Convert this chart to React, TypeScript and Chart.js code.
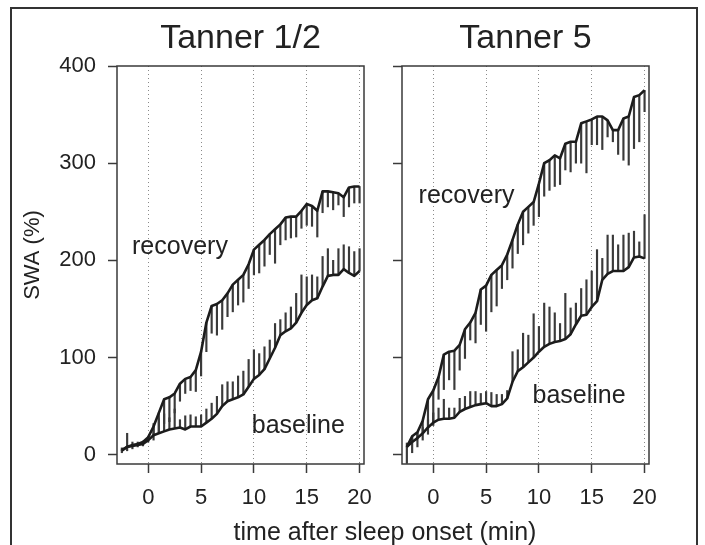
import React, { useEffect, useRef } from "react";
import { Chart, registerables } from "chart.js";

Chart.register(...registerables);

// ---------- data ----------
const time = [
  -2.5, -2, -1.5, -1, -0.5, 0, 0.5, 1, 1.5, 2, 2.5, 3, 3.5, 4, 4.5, 5, 5.5, 6, 6.5, 7, 7.5, 8, 8.5, 9, 9.5,
  10, 10.5, 11, 11.5, 12, 12.5, 13, 13.5, 14, 14.5, 15, 15.5, 16, 16.5, 17, 17.5, 18, 18.5, 19, 19.5, 20,
];

const xTicks = [0, 5, 10, 15, 20];
const yTicks = [0, 100, 200, 300, 400];
const panelTitles = ["Tanner 1/2", "Tanner 5"];
const seriesNames = ["recovery", "baseline"];
const xAxisTitle = "time after sleep onset (min)";
const yAxisTitle = "SWA (%)";

// Tanner 1/2
const t12Recovery = [
  5, 8, 10, 11, 13, 18, 29, 43, 57, 59, 63, 73, 78, 80, 87, 106, 136, 153, 155, 159, 166, 175, 180, 185, 196,
  211, 216, 221, 227, 232, 237, 244, 245, 245, 251, 258, 256, 251, 271, 271, 270, 269, 265, 275, 276, 276,
];
const t12RecoveryErr = [
  3, 4, 4, 3, 4, 5, 14, 20, 25, 25, 20, 18, 15, 14, 22, 25, 30, 28, 32, 30, 24, 28, 26, 28, 25,
  26, 29, 27, 21, 35, 21, 23, 22, 21, 18, 22, 21, 27, 22, 16, 18, 12, 20, 20, 17, 17,
];
const t12Baseline = [
  4, 8, 9, 10, 11, 15, 20, 22, 24, 26, 27, 28, 26, 29, 29, 29, 33, 37, 42, 50, 55, 57, 59, 62, 70,
  78, 82, 88, 99, 110, 123, 127, 130, 136, 146, 154, 159, 161, 173, 184, 185, 185, 191, 187, 184, 189,
];
const t12BaselineErr = [
  3, 14, 4, 3, 3, 4, 12, 15, 18, 12, 20, 8, 14, 12, 10, 12, 14, 16, 18, 22, 20, 18, 22, 24, 28,
  30, 22, 23, 19, 25, 16, 19, 22, 30, 39, 29, 26, 22, 31, 28, 15, 27, 25, 27, 25, 23,
];

// Tanner 5
const t5Recovery = [
  8, 19, 23, 35, 57, 66, 80, 103, 106, 107, 113, 129, 136, 146, 170, 174, 185, 190, 195, 206, 221, 237, 250, 255, 260,
  279, 300, 303, 308, 305, 320, 322, 322, 341, 343, 345, 348, 348, 344, 334, 334, 346, 348, 368, 370, 375,
];
const t5RecoveryErr = [
  17, 17, 15, 20, 36, 36, 23, 36, 29, 40, 26, 30, 18, 31, 36, 47, 38, 37, 24, 26, 29, 30, 34, 27, 24,
  34, 34, 31, 32, 27, 27, 31, 22, 41, 53, 26, 29, 34, 17, 12, 25, 43, 50, 53, 48, 22,
];
const t5Baseline = [
  8, 13, 17, 22, 28, 33, 36, 37, 37, 38, 44, 47, 49, 51, 52, 53, 50, 50, 52, 58, 75, 86, 90, 95, 100,
  106, 111, 114, 116, 117, 119, 124, 134, 143, 144, 152, 158, 180, 186, 189, 189, 189, 193, 203, 204, 202,
];
const t5BaselineErr = [
  4, 5, 5, 6, 8, 10, 12, 20, 11, 10, 14, 13, 16, 14, 11, 12, 14, 12, 10, 8, 31, 22, 35, 28, 45,
  26, 45, 38, 30, 18, 47, 27, 22, 28, 36, 37, 53, 22, 40, 37, 27, 37, 35, 27, 15, 45,
];

// ---------- style / layout ----------
const FONT = '"Liberation Sans", Arial, Helvetica, sans-serif';
const INK = "#222";
const BOX = "#3a3a3a";
const W = 705;
const H = 545;
const X_MIN = -2.96;
const X_MAX = 20.42;
const Y_MIN = -9.6;
const Y_MAX = 400;

type Panel = {
  title: string;
  rec: number[];
  recErr: number[];
  base: number[];
  baseErr: number[];
  left: number; // chart area left edge (px)
  right: number; // chart area right edge (px)
  showYLabels: boolean;
  showAxisTitles: boolean;
  labelPos: { x: number; y: number }[]; // in data units: recovery, baseline
};

const panels: Panel[] = [
  {
    title: panelTitles[0],
    rec: t12Recovery,
    recErr: t12RecoveryErr,
    base: t12Baseline,
    baseErr: t12BaselineErr,
    left: 117,
    right: 364,
    showYLabels: true,
    showAxisTitles: true,
    labelPos: [
      { x: 3.0, y: 207 },
      { x: 14.2, y: 22.5 },
    ],
  },
  {
    title: panelTitles[1],
    rec: t5Recovery,
    recErr: t5RecoveryErr,
    base: t5Baseline,
    baseErr: t5BaselineErr,
    left: 402,
    right: 649,
    showYLabels: false,
    showAxisTitles: false,
    labelPos: [
      { x: 3.15, y: 259 },
      { x: 13.8, y: 53.5 },
    ],
  },
];

const CHART_TOP = 66;
const CHART_BOTTOM = 464;

function makeConfig(p: Panel): any {
  const yWidth = p.showYLabels ? p.left : 20;
  const padLeft = p.left - yWidth;

  const decor = {
    id: "decor",
    afterDraw(chart: any) {
      const { ctx, chartArea: a, scales } = chart;
      ctx.save();
      ctx.strokeStyle = BOX;
      ctx.lineWidth = 1.5;
      ctx.strokeRect(a.left, a.top, a.right - a.left, a.bottom - a.top);
      ctx.fillStyle = INK;
      ctx.font = `25px ${FONT}`;
      ctx.textAlign = "center";
      ctx.textBaseline = "alphabetic";
      p.labelPos.forEach((lp, i) => {
        ctx.fillText(seriesNames[i], scales.x.getPixelForValue(lp.x), scales.y.getPixelForValue(lp.y));
      });
      if (p.showAxisTitles) {
        ctx.fillText(xAxisTitle, 385, 540);
        ctx.save();
        ctx.translate(33, 255);
        ctx.rotate(-Math.PI / 2);
        ctx.font = `22px ${FONT}`;
        ctx.textBaseline = "middle";
        ctx.fillText(yAxisTitle, 0, 0);
        ctx.restore();
      }
      ctx.restore();
    },
  };

  return {
    type: "line",
    data: {
      datasets: [
        {
          type: "line",
          data: time.map((t, i) => ({ x: t, y: p.rec[i] })),
          borderColor: "#1c1c1c",
          borderWidth: 2.6,
          pointRadius: 0,
          tension: 0,
          fill: false,
          borderJoinStyle: "round",
          order: 0,
        },
        {
          type: "line",
          data: time.map((t, i) => ({ x: t, y: p.base[i] })),
          borderColor: "#1c1c1c",
          borderWidth: 2.6,
          pointRadius: 0,
          tension: 0,
          fill: false,
          borderJoinStyle: "round",
          order: 0,
        },
        {
          type: "bar",
          data: time.map((t, i) => ({ x: t, y: [p.rec[i] - p.recErr[i], p.rec[i]] })),
          backgroundColor: "#3a3a3a",
          borderWidth: 0,
          barThickness: 1.5,
          grouped: false,
          order: 1,
        },
        {
          type: "bar",
          data: time.map((t, i) => ({ x: t, y: [p.base[i], p.base[i] + p.baseErr[i]] })),
          backgroundColor: "#3a3a3a",
          borderWidth: 0,
          barThickness: 1.5,
          grouped: false,
          order: 1,
        },
      ],
    },
    options: {
      responsive: false,
      animation: false,
      events: [],
      layout: {
        padding: { left: padLeft, right: W - p.right, top: 0, bottom: 0 },
      },
      plugins: {
        legend: { display: false },
        tooltip: { enabled: false },
        title: {
          display: true,
          text: p.title,
          fullSize: false,
          color: INK,
          font: { family: FONT, size: 34, weight: "normal" },
          padding: { top: 18, bottom: CHART_TOP - 18 - 34 * 1.2 },
        },
      },
      scales: {
        x: {
          type: "linear",
          position: "bottom",
          min: X_MIN,
          max: X_MAX,
          bounds: "data",
          offset: false,
          afterBuildTicks: (scale: any) => {
            scale.ticks = xTicks.map((v) => ({ value: v }));
          },
          afterFit: (scale: any) => {
            scale.height = H - CHART_BOTTOM;
          },
          grid: {
            offset: false,
            drawOnChartArea: true,
            drawTicks: true,
            color: "#8a8a8a",
            lineWidth: 1,
            tickLength: 9,
            tickColor: BOX,
            tickWidth: 1.5,
          },
          border: { display: false, dash: [1, 3] },
          ticks: {
            color: INK,
            padding: 12,
            maxRotation: 0,
            autoSkip: false,
            font: { family: FONT, size: 22 },
          },
        },
        y: {
          type: "linear",
          position: "left",
          min: Y_MIN,
          max: Y_MAX,
          bounds: "data",
          afterBuildTicks: (scale: any) => {
            scale.ticks = yTicks.map((v) => ({ value: v }));
          },
          afterFit: (scale: any) => {
            scale.width = yWidth;
          },
          grid: {
            drawOnChartArea: false,
            drawTicks: true,
            tickLength: 9,
            tickColor: BOX,
            tickWidth: 1.5,
          },
          border: { display: false },
          ticks: {
            display: p.showYLabels,
            color: INK,
            padding: 12,
            autoSkip: false,
            font: { family: FONT, size: 22 },
          },
        },
      },
    },
    plugins: [decor],
  };
}

function PanelChart({ panel }: { panel: Panel }) {
  const ref = useRef<HTMLCanvasElement>(null);
  useEffect(() => {
    if (!ref.current) return;
    const chart = new Chart(ref.current, makeConfig(panel));
    return () => chart.destroy();
  }, [panel]);
  return (
    <canvas
      ref={ref}
      width={W}
      height={H}
      style={{ position: "absolute", left: 0, top: 0, width: W, height: H }}
    />
  );
}

export default function App() {
  return (
    <div
      style={{
        position: "absolute",
        left: 0,
        top: 0,
        width: W,
        height: H,
        overflow: "hidden",
        background: "#fff",
      }}
    >
      <div
        style={{
          position: "absolute",
          left: 10,
          top: 7,
          width: 688,
          height: 620,
          border: "2px solid #333",
          boxSizing: "border-box",
        }}
      />
      {panels.map((p, i) => (
        <PanelChart key={i} panel={p} />
      ))}
    </div>
  );
}
